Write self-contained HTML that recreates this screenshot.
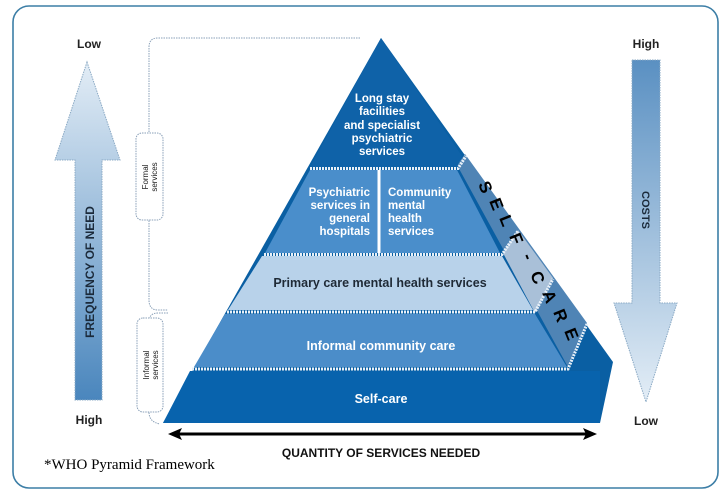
<!DOCTYPE html>
<html><head><meta charset="utf-8"><style>
html,body{margin:0;padding:0;background:#fff;}
svg{display:block;}
text{font-family:"Liberation Sans",sans-serif;font-weight:bold;}
text.n{font-weight:normal;}
</style></head><body>
<svg width="722" height="492" viewBox="0 0 722 492" xmlns="http://www.w3.org/2000/svg">
<defs>
<linearGradient id="gl" x1="0" y1="0" x2="0" y2="1"><stop offset="0" stop-color="#e3edf6"/><stop offset="1" stop-color="#4a86bd"/></linearGradient>
<linearGradient id="gr" x1="0" y1="0" x2="0" y2="1"><stop offset="0" stop-color="#5a90c2"/><stop offset="1" stop-color="#e3edf6"/></linearGradient>
</defs>
<rect x="13" y="6" width="705" height="482" rx="16" fill="#fff" stroke="#3c7ea6" stroke-width="1.6"/>

<!-- left arrow -->
<polygon points="87,62 120,160 102,160 102,400 75,400 75,160 55,160" fill="url(#gl)" stroke="#8aa9c4" stroke-width="1" stroke-dasharray="1.5,1"/>
<text x="89" y="48" font-size="12" text-anchor="middle" fill="#222">Low</text>
<text x="89" y="424" font-size="12" text-anchor="middle" fill="#222">High</text>
<text transform="translate(94,272) rotate(-90)" font-size="12" text-anchor="middle" fill="#1b2a3a">FREQUENCY OF NEED</text>

<!-- right arrow -->
<polygon points="632,60 660,60 660,303 677,303 646,402 614,303 632,303" fill="url(#gr)" stroke="#8aa9c4" stroke-width="1" stroke-dasharray="1.5,1"/>
<text x="646" y="48" font-size="12" text-anchor="middle" fill="#222">High</text>
<text x="646" y="425" font-size="12" text-anchor="middle" fill="#222">Low</text>
<text transform="translate(642,210) rotate(90)" font-size="11" text-anchor="middle" fill="#1b2a3a">COSTS</text>

<!-- brackets -->
<path d="M360,38 H158 Q149,38 149,47 V300 Q149,310 158,310 H168" fill="none" stroke="#8aa0b8" stroke-width="1" stroke-dasharray="1.5,1"/>
<path d="M168,313 H158 Q149,313 149,322 V412 Q149,422 160,424" fill="none" stroke="#8aa0b8" stroke-width="1" stroke-dasharray="1.5,1"/>
<rect x="136" y="133" width="27" height="87" rx="6" fill="#fff" stroke="#8aa0b8" stroke-width="1" stroke-dasharray="1.5,1"/>
<rect x="137" y="318" width="26" height="94" rx="6" fill="#fff" stroke="#8aa0b8" stroke-width="1" stroke-dasharray="1.5,1"/>
<text class="n" transform="translate(148,177) rotate(-90)" font-size="8" text-anchor="middle" fill="#222">Formal</text>
<text class="n" transform="translate(157,177) rotate(-90)" font-size="8" text-anchor="middle" fill="#222">services</text>
<text class="n" transform="translate(149,365) rotate(-90)" font-size="8" text-anchor="middle" fill="#222">Informal</text>
<text class="n" transform="translate(158,365) rotate(-90)" font-size="8" text-anchor="middle" fill="#222">services</text>

<!-- pyramid base shape (dark) -->
<polygon points="381,38 613,362 600,423 163,423" fill="#0a5fa3"/>
<!-- side strip -->
<polygon points="457,165 465,154 587,323 568,367" fill="#4f84b5"/>
<polygon points="503,253 518,230 553,278 535,313" fill="#a9c0d8"/>
<!-- front layers -->
<polygon points="381,38 462,156 457,167 310,167" fill="#0f62a8"/>
<polygon points="310,170 457,170 500,253 265,253" fill="#4a8ecb"/>
<polygon points="262,256 502,256 533,310 228,310" fill="#b8d2ea"/>
<polygon points="225,314 535,314 567,367 194,367" fill="#4b8dc9"/>
<polygon points="190,371 600,371 600,423 163,423" fill="#0863ad"/>
<!-- hatched separators -->
<g stroke="#e8f0f8" stroke-width="3" fill="none" stroke-dasharray="2,1">
<path d="M310,168.5 H458 L466,156"/>
<path d="M264,254.5 H502 L518,231"/>
<path d="M227,312 H535 L553,279"/>
<path d="M192,369 H568 L587,324"/>
</g>
<line x1="379" y1="170" x2="379" y2="253" stroke="#fff" stroke-width="3"/>

<g fill="#fff" font-size="11.5" text-anchor="middle">
<text x="382" y="102">Long stay</text>
<text x="382" y="115">facilities</text>
<text x="382" y="129">and specialist</text>
<text x="382" y="142">psychiatric</text>
<text x="382" y="155">services</text>
<text x="370" y="196" text-anchor="end">Psychiatric</text>
<text x="370" y="209" text-anchor="end">services in</text>
<text x="370" y="222" text-anchor="end">general</text>
<text x="370" y="235" text-anchor="end">hospitals</text>
<text x="388" y="196" text-anchor="start">Community</text>
<text x="388" y="209" text-anchor="start">mental</text>
<text x="388" y="222" text-anchor="start">health</text>
<text x="388" y="235" text-anchor="start">services</text>
<text x="381" y="350" font-size="12.5">Informal community care</text>
<text x="381" y="403" font-size="12.5">Self-care</text>
</g>
<text x="380" y="287" font-size="12.5" text-anchor="middle" fill="#1f2a36">Primary care mental health services</text>

<g font-size="17" fill="#000" font-weight="bold">
<text transform="translate(478,184) rotate(68)">S</text>
<text transform="translate(489,201) rotate(68)">E</text>
<text transform="translate(499,218) rotate(68)">L</text>
<text transform="translate(509,236) rotate(68)">F</text>
<text transform="translate(522,256) rotate(68)">-</text>
<text transform="translate(530,274) rotate(68)">C</text>
<text transform="translate(542,293) rotate(68)">A</text>
<text transform="translate(553,312) rotate(68)">R</text>
<text transform="translate(564,331) rotate(68)">E</text>
</g>

<!-- bottom arrow -->
<line x1="178" y1="434" x2="587" y2="434" stroke="#000" stroke-width="3"/>
<polygon points="168,434 182,428 179,434 182,440" fill="#000"/>
<polygon points="597,434 583,428 586,434 583,440" fill="#000"/>
<text x="381" y="457" font-size="12" text-anchor="middle" fill="#111">QUANTITY OF SERVICES NEEDED</text>
<text class="n" x="44" y="469" font-size="15" style="font-family:'Liberation Serif',serif" fill="#000">*WHO Pyramid Framework</text>
</svg>
</body></html>
